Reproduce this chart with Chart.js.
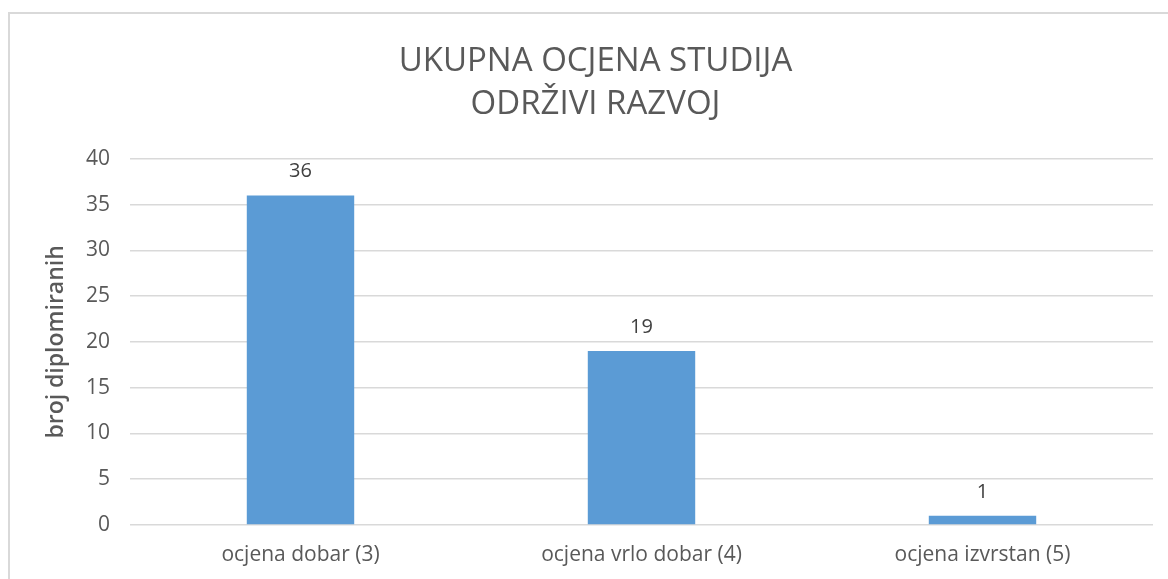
<!DOCTYPE html>
<html>
<head>
<meta charset="utf-8">
<script src="https://cdn.jsdelivr.net/npm/chart.js@4.4.1/dist/chart.umd.min.js"></script>
<style>
  body { margin: 0; background: #fff; }
  #frame {
    position: absolute; left: 8px; top: 12px;
    width: 1200px; height: 600px;
    border: 2px solid #d9d9d9;
  }
  #wrap { position: absolute; left: 0; top: 0; width: 1168px; height: 579px; }
</style>
</head>
<body>
<div id="frame"></div>
<div id="wrap"><canvas id="barChart" width="1168" height="579"></canvas></div>
<script>

// data
const categories = ["ocjena dobar (3)", "ocjena vrlo dobar (4)", "ocjena izvrstan (5)"];
const values = [36, 19, 1];
const titleLines = ["UKUPNA OCJENA STUDIJA", "ODRŽIVI RAZVOJ"];
const yTitle = "broj diplomiranih";

const fontFamily = "'Open Sans', 'Noto Sans', sans-serif";

// value labels above the bars
const valueLabels = {
    id: "valueLabels",
    afterDatasetsDraw(chart) {
        const ctx = chart.ctx;
        const meta = chart.getDatasetMeta(0);
        ctx.save();
        ctx.font = "20px " + fontFamily;
        ctx.fillStyle = "#404040";
        ctx.textAlign = "center";
        ctx.textBaseline = "alphabetic";
        meta.data.forEach(function(bar, i){
            ctx.fillText(chart.data.datasets[0].data[i], bar.x, bar.y - 18);
        });
        ctx.restore();
    }
};

new Chart(document.getElementById("barChart"), {
    type: "bar",
    data: {
        labels: categories,
        datasets: [{
            data: values,
            backgroundColor: "#5b9bd5",
            categoryPercentage: 1,
            barPercentage: 0.315
        }]
    },
    options: {
        responsive: false,
        animation: false,
        layout: { padding: { left: 38, right: 15, top: 0, bottom: 0 } },
        plugins: {
            legend: { display: false },
            tooltip: { enabled: false },
            title: {
                display: true,
                text: titleLines,
                color: "#595959",
                font: { family: fontFamily, size: 33, weight: "normal", lineHeight: 1.3 },
                padding: { top: 40, bottom: 33 }
            }
        },
        scales: {
            x: {
                grid: { display: false, drawTicks: false },
                border: { display: false },
                ticks: { color: "#595959", font: { family: fontFamily, size: 21 }, padding: 17 },
                afterFit(scale) { scale.height = 54; }
            },
            y: {
                min: 0,
                max: 40,
                ticks: { stepSize: 5, color: "#595959", font: { family: fontFamily, size: 21 }, padding: 20 },
                grid: { color: "#d9d9d9", lineWidth: 1.5, drawTicks: false },
                border: { display: false },
                title: {
                    display: true,
                    text: yTitle,
                    color: "#595959",
                    font: { family: fontFamily, size: 23, weight: "600" },
                    padding: { top: 5, bottom: 0 }
                },
                afterFit(scale) { scale.width = 92; }
            }
        }
    },
    plugins: [valueLabels]
});

</script>
</body>
</html>
